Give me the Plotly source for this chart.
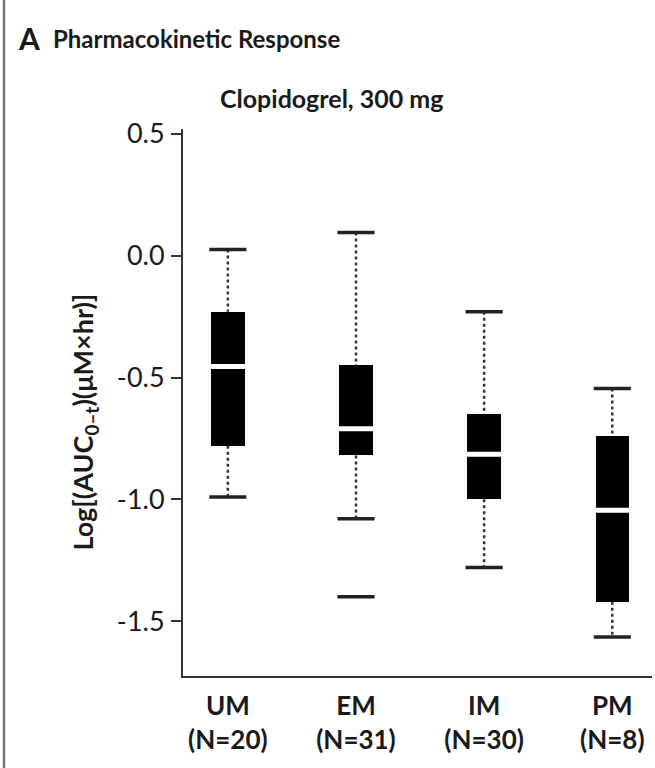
import plotly.graph_objects as go

# ---- data ----
groups = ["UM", "EM", "IM", "PM"]
n_sizes = [20, 31, 30, 8]
upper_cap = [0.025, 0.095, -0.23, -0.545]
q3 = [-0.23, -0.45, -0.65, -0.74]
median = [-0.455, -0.71, -0.815, -1.045]
q1 = [-0.78, -0.82, -1.00, -1.42]
lower_cap = [-0.99, -1.08, -1.28, -1.565]
outlier_group = [1]
outlier_value = [-1.40]
y_ticks = [0.5, 0.0, -0.5, -1.0, -1.5]

tick_text = [f"{g}<br>(N={n})" for g, n in zip(groups, n_sizes)]
xs = list(range(len(groups)))

FONT = "Lato, Open Sans, sans-serif"
INK = "#1a1a1a"

fig = go.Figure()

# whiskers (dotted)
wx, wy = [], []
for i in xs:
    wx += [i, i, None, i, i, None]
    wy += [upper_cap[i], q3[i], None, q1[i], lower_cap[i], None]
fig.add_trace(go.Scatter(x=wx, y=wy, mode="lines",
                         line=dict(color="#333333", width=2.5, dash="dot"),
                         hoverinfo="skip", showlegend=False))

# boxes
fig.add_trace(go.Bar(x=xs, y=[a - b for a, b in zip(q3, q1)], base=q1,
                     width=0.26, marker=dict(color="#000000", line=dict(width=0)),
                     showlegend=False))

# medians (white gap)
fig.add_trace(go.Scatter(x=xs, y=median, mode="markers",
                         marker=dict(symbol="line-ew", size=26,
                                     line=dict(color="white", width=5)),
                         showlegend=False))

# caps
fig.add_trace(go.Scatter(x=xs + xs, y=upper_cap + lower_cap, mode="markers",
                         marker=dict(symbol="line-ew", size=26.5,
                                     line=dict(color="#222222", width=3.5)),
                         showlegend=False))

# outliers
fig.add_trace(go.Scatter(x=outlier_group, y=outlier_value, mode="markers",
                         marker=dict(symbol="line-ew", size=26.5,
                                     line=dict(color="#222222", width=3.5)),
                         showlegend=False))

fig.update_layout(
    width=655, height=768,
    margin=dict(l=183, r=3, t=129, b=92),
    paper_bgcolor="white", plot_bgcolor="white",
    font=dict(family=FONT, color=INK, size=24),
    bargap=0,
    xaxis=dict(range=[-0.35, 3.31], tickvals=xs, ticktext=tick_text,
               showline=True, linecolor="#333333", linewidth=2,
               ticks="", showgrid=False, zeroline=False, ticklabelstandoff=6,
               tickfont=dict(size=26, family=FONT, color=INK, weight=700)),
    yaxis=dict(range=[-1.725, 0.52], tickvals=y_ticks,
               ticktext=[f"{v:.1f}" for v in y_ticks],
               showline=True, linecolor="#333333", linewidth=2,
               ticks="outside", ticklen=10, tickwidth=2, tickcolor="#333333",
               showgrid=False, zeroline=False, ticklabelstandoff=1,
               tickfont=dict(size=27, family=FONT, color=INK)),
    shapes=[dict(type="line", xref="paper", yref="paper",
                 x0=-0.3817, x1=-0.3817, y0=-0.2, y1=1.3,
                 line=dict(color="#777777", width=2.5))],
    annotations=[
        dict(text="A", xref="paper", yref="paper", x=-0.357, y=1.166,
             xanchor="left", yanchor="middle", showarrow=False,
             font=dict(size=30, family=FONT, color=INK, weight=700)),
        dict(text="Pharmacokinetic Response", xref="paper", yref="paper",
             x=-0.2815, y=1.166, xanchor="left", yanchor="middle", showarrow=False,
             font=dict(size=24, family=FONT, color=INK, weight=700)),
        dict(text="Clopidogrel, 300 mg", xref="paper", yref="paper",
             x=0.3156, y=1.0567, xanchor="center", yanchor="middle", showarrow=False,
             font=dict(size=25, family=FONT, color=INK, weight=700)),
        dict(text="Log[(AUC<sub>0\u2013t</sub>)(\u03bcM\u00d7hr)]",
             xref="paper", yref="paper", x=-0.209, y=0.465,
             xanchor="center", yanchor="middle", textangle=-90, showarrow=False,
             font=dict(size=27, family=FONT, color=INK, weight=700)),
    ],
)

fig.write_html("out.html", config={"displayModeBar": False})
